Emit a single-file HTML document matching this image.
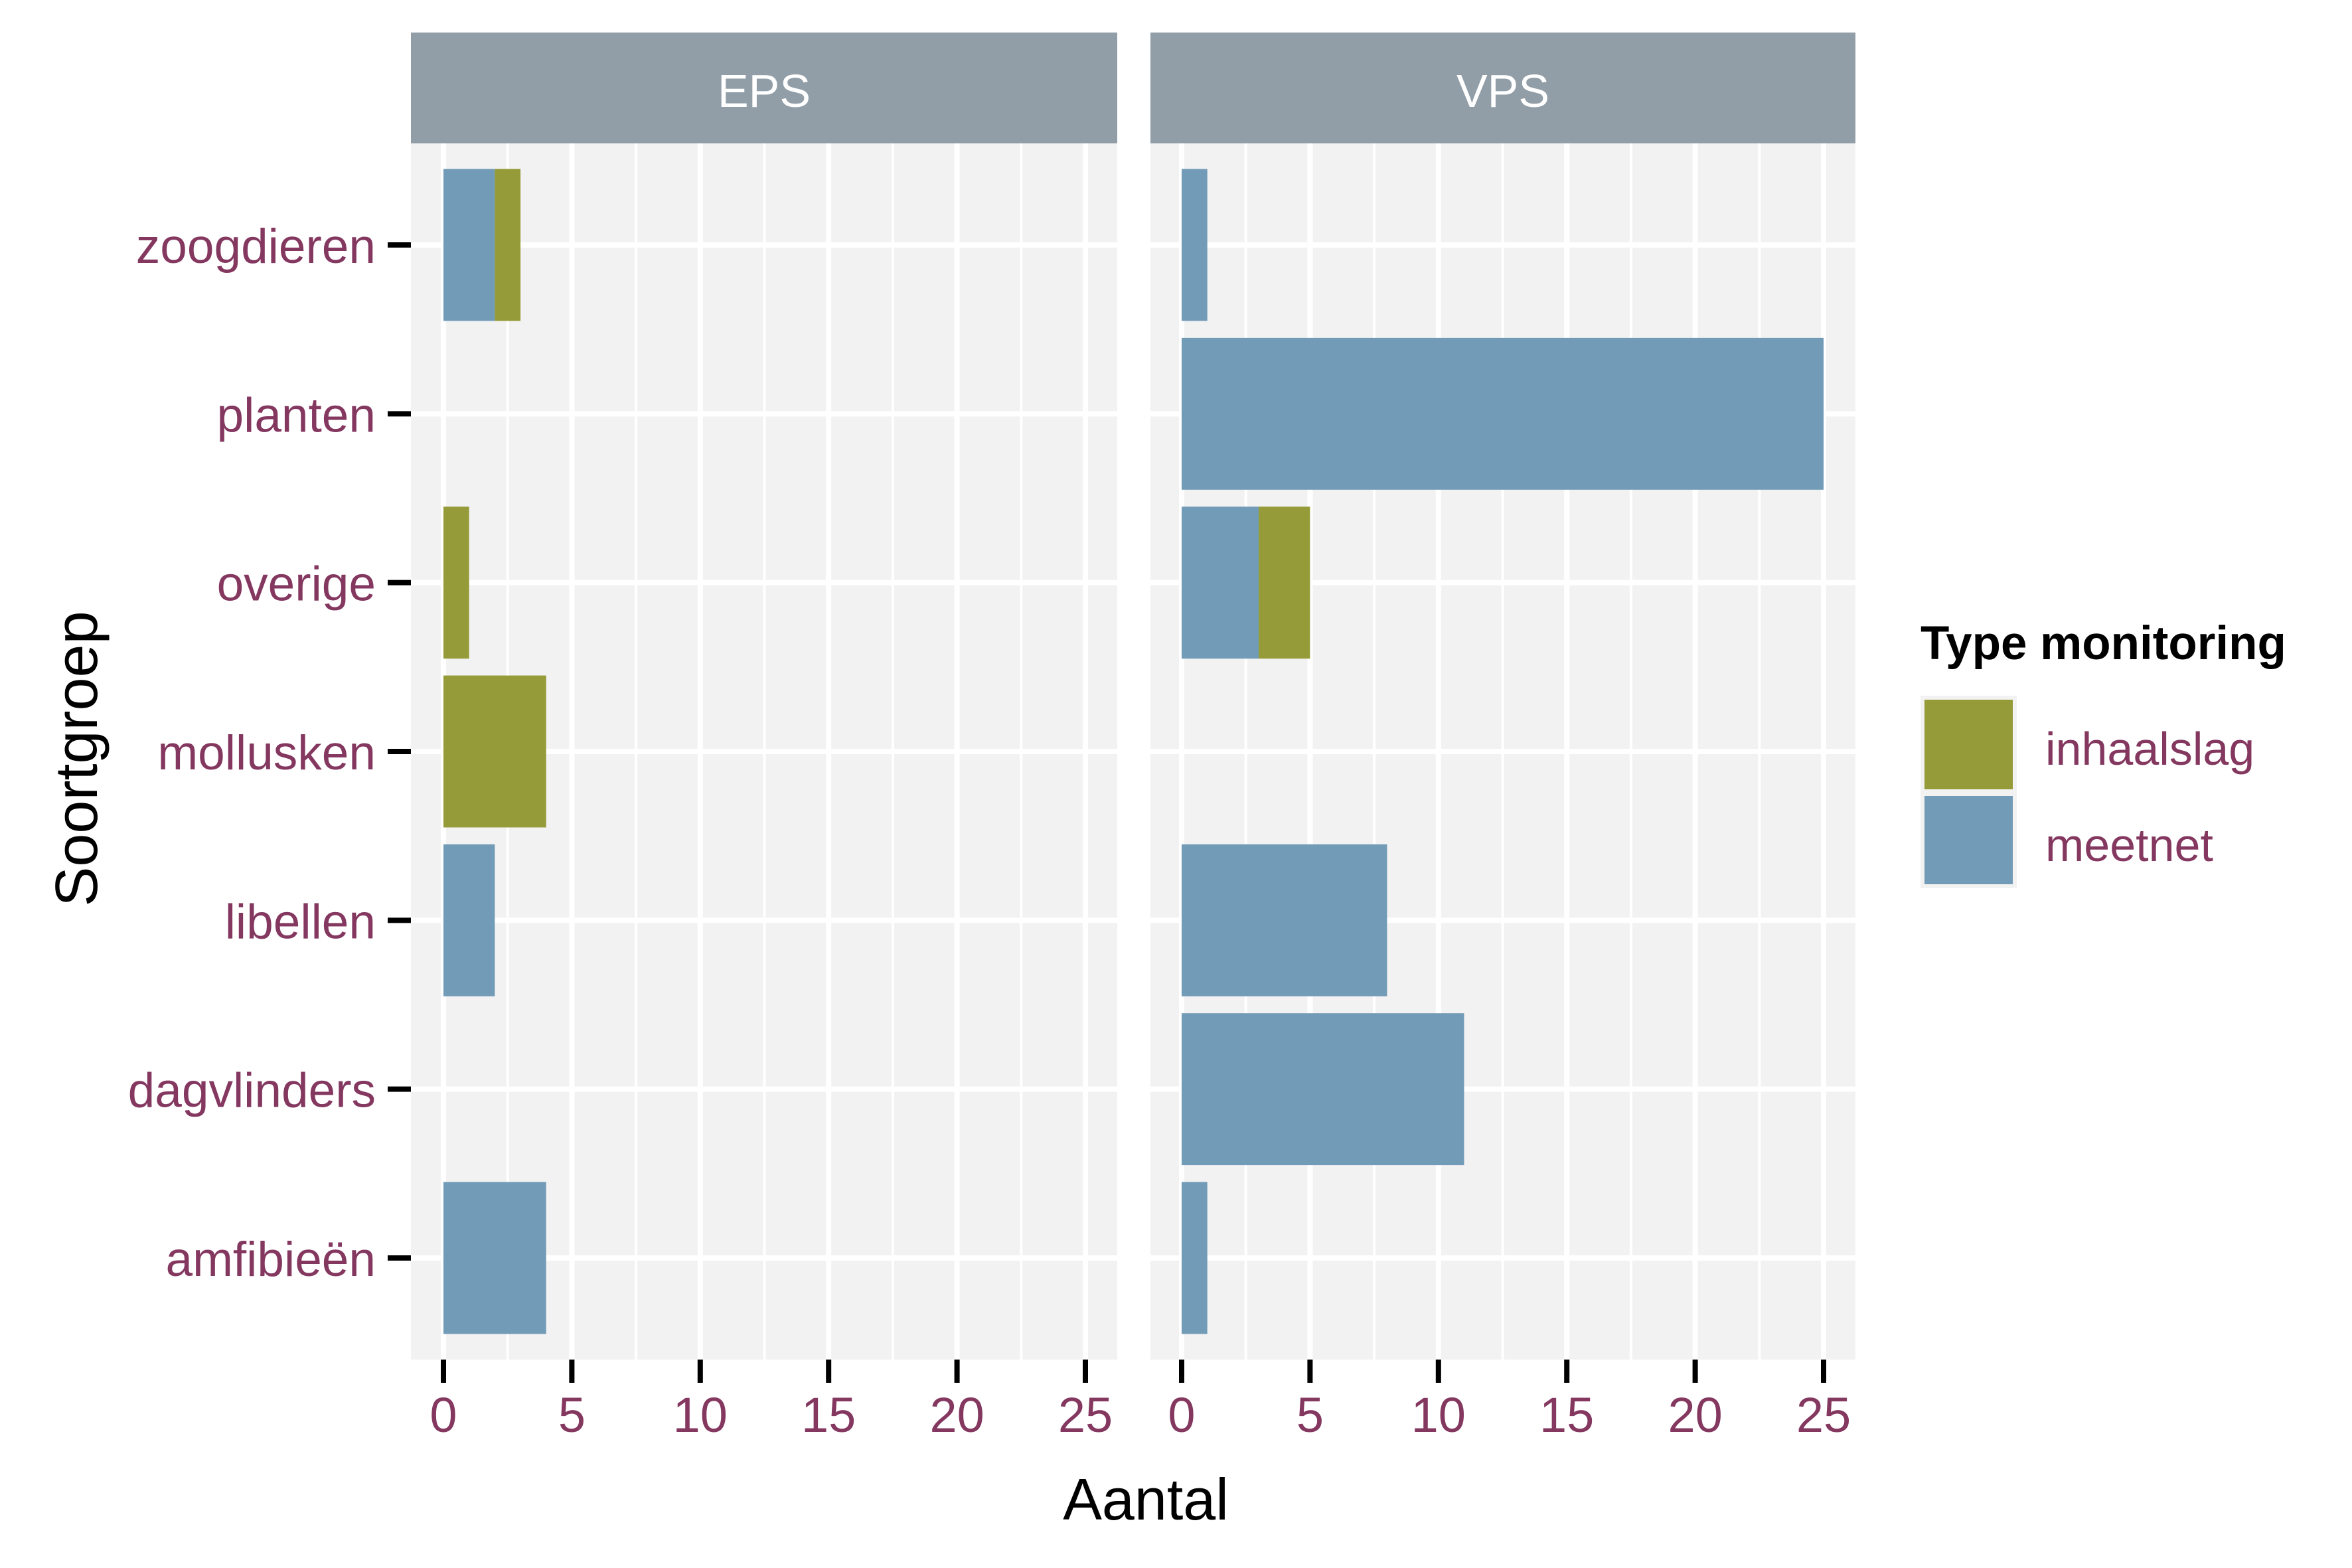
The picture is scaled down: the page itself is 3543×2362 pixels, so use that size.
<!DOCTYPE html>
<html><head><meta charset="utf-8"><style>
html,body{margin:0;padding:0;background:#fff;}
svg{display:block;font-family:"Liberation Sans",sans-serif;}
</style></head><body>
<svg id="chart" width="3543" height="2362" viewBox="0 0 3543 2362" xmlns="http://www.w3.org/2000/svg">
<rect width="3543" height="2362" fill="#fff"/>
<g id="panels"></g>
<text x="1726" y="2289" font-size="88" text-anchor="middle" fill="#000">Aantal</text>
<text transform="translate(146,1143) rotate(-90)" font-size="90" text-anchor="middle" fill="#000">Soortgroep</text>
<g>
<text x="2893" y="993" font-size="71" font-weight="bold" fill="#000">Type monitoring</text>
<rect x="2893" y="1048" width="145" height="290" fill="#f2f2f2"/>
<rect x="2899" y="1054" width="133" height="135" fill="#959B38"/>
<rect x="2899" y="1199" width="133" height="133" fill="#729BB7"/>
<text x="3081" y="1152" font-size="70" fill="#843860">inhaalslag</text>
<text x="3081" y="1297" font-size="70" fill="#843860">meetnet</text>
</g>
</svg>
<script>
const categories = ["zoogdieren","planten","overige","mollusken","libellen","dagvlinders","amfibieën"];
const facets = ["EPS","VPS"];
const epsMeetnet = [2,0,0,0,2,0,4];
const epsInhaalslag = [1,0,1,4,0,0,0];
const vpsMeetnet = [1,25,3,0,8,11,1];
const vpsInhaalslag = [0,0,2,0,0,0,0];
const xTicks = [0,5,10,15,20,25];

const NS="http://www.w3.org/2000/svg";
const root=document.getElementById('panels');
function mk(tag,attrs,parent){const e=document.createElementNS(NS,tag);for(const k in attrs)e.setAttribute(k,attrs[k]);(parent||root).appendChild(e);return e;}
const panelDefs=[{name:"EPS",x0:619,x1:1683,zero:668,meet:epsMeetnet,inh:epsInhaalslag},{name:"VPS",x0:1733,x1:2795,zero:1780,meet:vpsMeetnet,inh:vpsInhaalslag}];
const pxPerUnit=(1635-668)/25;
const py0=216, py1=2048, firstY=369, stepY=(1895-369)/6, barH=stepY*0.9;
function yPos(i){return firstY+i*stepY;}
panelDefs.forEach((p,pi)=>{
  const sx=v=>p.zero+v*pxPerUnit;
  const g=mk('g',{});
  
  
  mk('rect',{x:p.x0,y:py0,width:p.x1-p.x0,height:py1-py0,fill:'#F2F2F2'},g);
  for(let k=0;k<xTicks.length;k++){const v=xTicks[k]+2.5;const x=sx(v);if(x<p.x1)mk('line',{x1:x,x2:x,y1:py0,y2:py1,stroke:'#fff','stroke-width':4},g);}
  xTicks.forEach(t=>{const x=sx(t);mk('line',{x1:x,x2:x,y1:py0,y2:py1,stroke:'#fff','stroke-width':8},g);});
  categories.forEach((c,i)=>{const y=yPos(i);mk('line',{x1:p.x0,x2:p.x1,y1:y,y2:y,stroke:'#fff','stroke-width':8},g);});
  categories.forEach((c,i)=>{
    const y=yPos(i)-barH/2;
    if(p.meet[i]>0){const r=mk('rect',{x:sx(0),y:y,width:p.meet[i]*pxPerUnit,height:barH,fill:'#729BB7'},g);
      
      }
    if(p.inh[i]>0){const r=mk('rect',{x:sx(p.meet[i]),y:y,width:p.inh[i]*pxPerUnit,height:barH,fill:'#959B38'},g);
      
      }
  });
  const s=mk('rect',{x:p.x0,y:49,width:p.x1-p.x0,height:167,fill:'#919EA8'},g);
  
  
  const st=mk('text',{x:(p.x0+p.x1)/2,y:161,'font-size':70,'text-anchor':'middle',fill:'#fff'},g);
  st.textContent=p.name;
  xTicks.forEach(t=>{const x=sx(t);mk('line',{x1:x,x2:x,y1:py1,y2:2083,stroke:'#000','stroke-width':8},g);
    const tl=mk('text',{x:x,y:2157,'font-size':74,'text-anchor':'middle',fill:'#843860'},g);
    
    
    tl.textContent=t;});
});
categories.forEach((c,i)=>{const y=yPos(i);
  mk('line',{x1:584,x2:619,y1:y,y2:y,stroke:'#000','stroke-width':8});
  const t=mk('text',{x:566,y:y+27,'font-size':73,'text-anchor':'end',fill:'#843860'});
  
  
  t.textContent=c;});
</script>
</body></html>
